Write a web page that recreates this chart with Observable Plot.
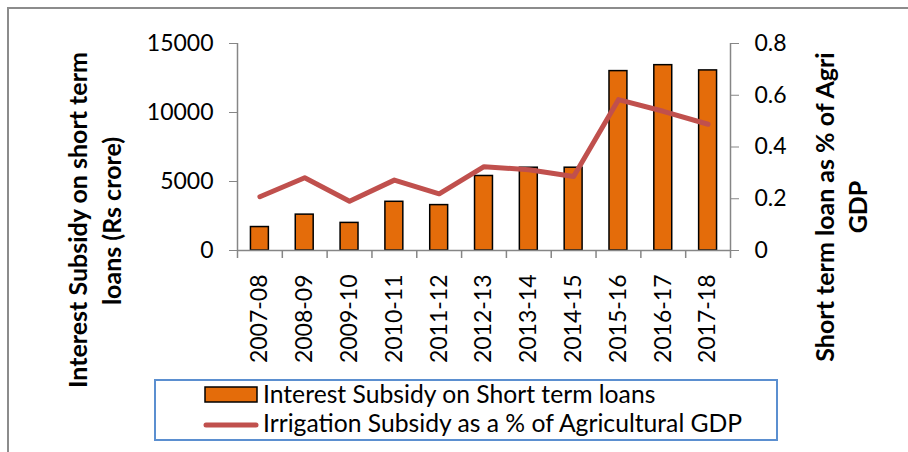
<!DOCTYPE html>
<html>
<head>
<meta charset="utf-8">
<script src="https://cdn.jsdelivr.net/npm/d3@7"></script>
<script src="https://cdn.jsdelivr.net/npm/@observablehq/plot@0.6"></script>
<style>
  html, body { margin: 0; padding: 0; background: #fff; }
  #wrap { position: relative; width: 908px; height: 452px; overflow: hidden; }
</style>
</head>
<body>
<div id="wrap"></div>
<script>
const years = ["2007-08","2008-09","2009-10","2010-11","2011-12","2012-13","2013-14","2014-15","2015-16","2016-17","2017-18"];
const interestSubsidy = [1700, 2600, 2000, 3530, 3290, 5400, 6000, 6000, 13000, 13430, 13050];
const irrigationPct = [0.208, 0.281, 0.190, 0.272, 0.219, 0.324, 0.312, 0.286, 0.583, 0.538, 0.488];
const leftTicks = [0, 5000, 10000, 15000];
const rightTicks = [0, 0.2, 0.4, 0.6, 0.8];
const seriesNames = ["Interest Subsidy on Short term loans", "Irrigation Subsidy as a % of Agricultural GDP"];
const leftTitle = ["Interest Subsidy on short term", "loans (Rs crore)"];
const rightTitle = ["Short term loan as % of Agri", "GDP"];

const data = years.map((y, i) => ({year: y, subsidy: interestSubsidy[i], pct: irrigationPct[i]}));
const yMax = 15000, rMax = 0.8, k = yMax / rMax;
const W = 908, H = 452;
const mL = 237, mR = 178, mT = 43, mB = 202;
const step = (W - mL - mR) / years.length;
const unitsPerPx = yMax / (H - mT - mB);
const axisColor = "#868686";
const font = "Lato, 'Open Sans', sans-serif";

const chart = Plot.plot({
  width: W, height: H,
  marginLeft: mL, marginRight: mR, marginTop: mT, marginBottom: mB,
  style: {fontFamily: font, fontSize: "23px", background: "transparent", color: "black", overflow: "visible"},
  x: {domain: years, paddingInner: 0.6, paddingOuter: 0.3, round: false, label: null},
  y: {domain: [0, yMax], label: null},
  marks: [
    Plot.barY(data, {x: "year", y: "subsidy", fill: "#e46c0a", stroke: "black", strokeWidth: 1.5}),
    Plot.line(data, {x: "year", y: d => d.pct * k, stroke: "#c0504d", strokeWidth: 5, strokeLinecap: "round", strokeLinejoin: "round"}),
    Plot.ruleY([0], {stroke: axisColor, strokeWidth: 1.5}),
    Plot.ruleX(years, {x: d => d, y1: 0, y2: -8 * unitsPerPx, dx: -step / 2, stroke: axisColor, strokeWidth: 1.5}),
    Plot.ruleX([years[years.length - 1]], {x: d => d, y1: 0, y2: -8 * unitsPerPx, dx: step / 2, stroke: axisColor, strokeWidth: 1.5}),
    Plot.axisY({ticks: leftTicks, tickFormat: d => String(d), tickSize: 8, tickPadding: 16, stroke: axisColor, label: null, fontSize: 23}),
    Plot.ruleX([years[0]], {x: d => d, y1: 0, y2: yMax, dx: -step / 2, stroke: axisColor, strokeWidth: 1.5}),
    Plot.axisY({anchor: "right", ticks: rightTicks.map(v => v * k), tickFormat: d => { const v = Math.round(d / k * 10) / 10; return v === 0 ? "0" : String(v); }, tickSize: 8, tickPadding: 16, stroke: axisColor, label: null, fontSize: 23}),
    Plot.ruleX([years[years.length - 1]], {x: d => d, y1: 0, y2: yMax, dx: step / 2, stroke: axisColor, strokeWidth: 1.5}),
    Plot.axisX({tickSize: 0, tickRotate: -90, tickPadding: 24, label: null, fontSize: 23})
  ]
});

const svg = d3.select(chart);
// outer border
svg.append("path").attr("d", `M8,${H} L8,8 L${W},8`).attr("fill", "none").attr("stroke", "#8c8c8c").attr("stroke-width", 2);

// axis titles
const lt = svg.append("g").attr("font-family", font).attr("font-weight", "bold").attr("font-size", 25).attr("text-anchor", "middle");
lt.append("text").attr("transform", "translate(87,220) rotate(-90)").text(leftTitle[0]);
lt.append("text").attr("transform", "translate(121,221) rotate(-90)").text(leftTitle[1]);
lt.append("text").attr("transform", "translate(834,207) rotate(-90)").text(rightTitle[0]);
lt.append("text").attr("transform", "translate(867,207) rotate(-90)").text(rightTitle[1]);

// legend
const lg = svg.append("g").attr("font-family", font).attr("font-size", 24.7).attr("text-anchor", "start");
lg.append("rect").attr("x", 155).attr("y", 380).attr("width", 622).attr("height", 60).attr("fill", "white").attr("stroke", "#5b8fd0").attr("stroke-width", 2);
lg.append("rect").attr("x", 205).attr("y", 387).attr("width", 52).attr("height", 15).attr("fill", "#e46c0a").attr("stroke", "black").attr("stroke-width", 1.5);
lg.append("text").attr("x", 263).attr("y", 403).text(seriesNames[0]);
lg.append("line").attr("x1", 206).attr("x2", 256).attr("y1", 425).attr("y2", 425).attr("stroke", "#c0504d").attr("stroke-width", 5).attr("stroke-linecap", "round");
lg.append("text").attr("x", 263).attr("y", 432).text(seriesNames[1]);

document.getElementById("wrap").appendChild(chart);
</script>
</body>
</html>
